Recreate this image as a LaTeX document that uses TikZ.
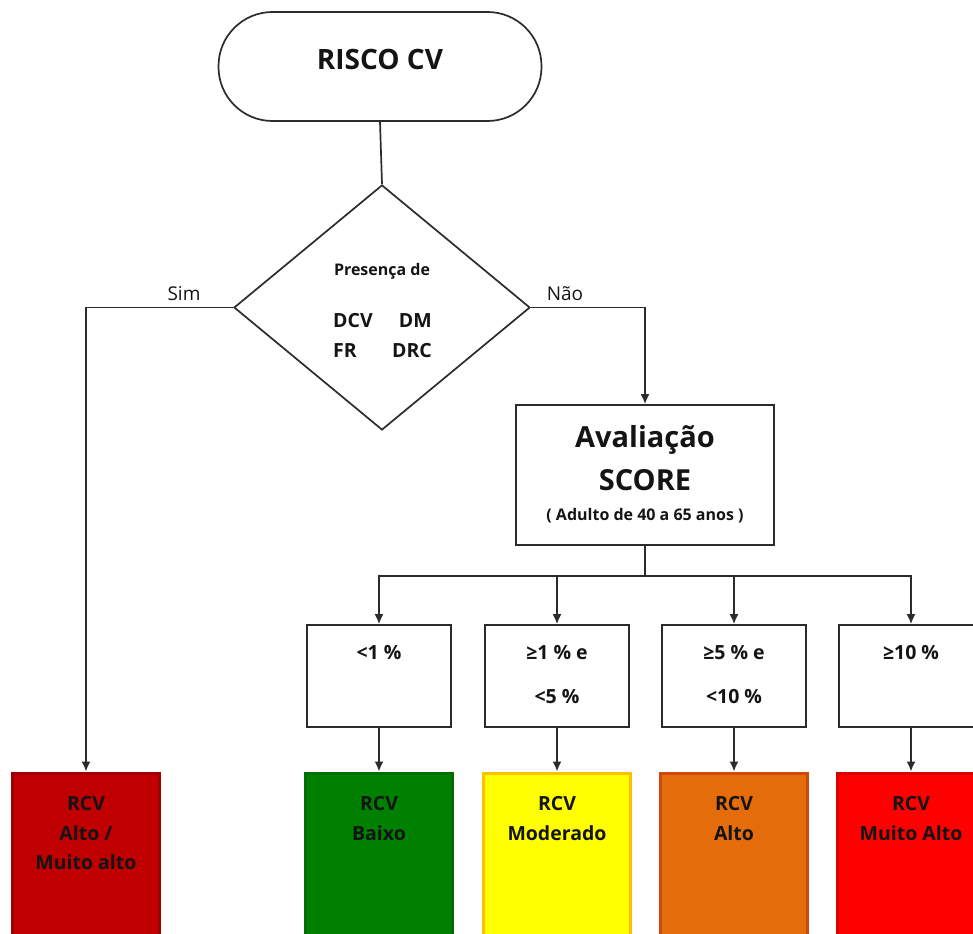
\documentclass[tikz,border=0pt]{standalone}
\usepackage{fontspec}
\setmainfont{Open Sans}
\usetikzlibrary{arrows.meta,shapes.geometric}
\definecolor{ln}{HTML}{2B2B2B}
\definecolor{tx}{HTML}{141414}
\definecolor{cdr}{HTML}{C00000}\definecolor{cdrb}{HTML}{A00000}
\definecolor{cgr}{HTML}{008000}\definecolor{cgrb}{HTML}{006E00}
\definecolor{cye}{HTML}{FFFF00}\definecolor{cyeb}{HTML}{FFC000}
\definecolor{cor}{HTML}{E46C0A}\definecolor{corb}{HTML}{D0480A}
\definecolor{cre}{HTML}{FF0000}\definecolor{creb}{HTML}{D80000}
\begin{document}
\begin{tikzpicture}[x=1pt,y=-1pt,
  line/.style={draw=ln,line width=1.7pt},
  arr/.style={line,-{Latex[length=10pt,width=9pt]}},
  txt/.style={inner sep=0pt,anchor=base,font=\bfseries\fontsize{19.5}{23}\selectfont,text=tx},
  pbox/.style={line,rectangle,minimum width=144pt,minimum height=102pt,inner sep=0pt},
  cbox/.style={rectangle,line width=3pt,minimum width=147pt,minimum height=180pt,inner sep=0pt}]
\useasboundingbox (0,0) rectangle (973,933);
\clip (0,0) rectangle (973,933);
% top terminator
\node[line,rectangle,rounded corners=54pt,minimum width=323pt,minimum height=109pt,inner sep=0pt] (start) at (380,66.5) {};
\node[txt,font=\bfseries\fontsize{28}{34}\selectfont] (tstart) at (380,70) {RISCO CV};
% decision
\node[line,diamond,aspect=1.2,minimum width=296pt,minimum height=245pt,inner sep=0pt] (dec) at (382,307.5) {};
\node[txt,font=\bfseries\fontsize{16}{19}\selectfont] (tpres) at (382,275) {Presença de};
\node[txt,anchor=base west] (tdcv) at (333,327) {DCV};
\node[txt,anchor=base east] (tdm) at (432,327) {DM};
\node[txt,anchor=base west] (tfr) at (333,357) {FR};
\node[txt,anchor=base east] (tdrc) at (432,357) {DRC};
\node[txt,font=\fontsize{19}{23}\selectfont] (lsim) at (184,300) {Sim};
\node[txt,font=\fontsize{19}{23}\selectfont] (lnao) at (565,300) {Não};
% score box
\node[line,rectangle,minimum width=258pt,minimum height=140pt,inner sep=0pt] (score) at (645,475) {};
\node[txt,font=\bfseries\fontsize{29}{34}\selectfont] (tav) at (645,447) {Avaliação};
\node[txt,font=\bfseries\fontsize{29}{34}\selectfont] (tsc) at (645,490) {SCORE};
\node[txt,font=\bfseries\fontsize{16}{19}\selectfont] (tad) at (645,520) {( Adulto de 40 a 65 anos )};
% percent boxes
\node[pbox] (p1) at (379,676) {};
\node[pbox] (p2) at (557,676) {};
\node[pbox] (p3) at (734,676) {};
\node[pbox] (p4) at (911,676) {};
\node[txt] (tp1) at (379,659) {<1 \%};
\node[txt] (tp2a) at (557,659) {≥1 \% e};
\node[txt] (tp2b) at (557,703) {<5 \%};
\node[txt] (tp3a) at (734,659) {≥5 \% e};
\node[txt] (tp3b) at (734,703) {<10 \%};
\node[txt] (tp4) at (911,659) {≥10 \%};
% coloured boxes
\node[cbox,fill=cdr,draw=cdrb] (b0) at (86,863) {};
\node[cbox,fill=cgr,draw=cgrb] (b1) at (379,863) {};
\node[cbox,fill=cye,draw=cyeb] (b2) at (557,863) {};
\node[cbox,fill=cor,draw=corb] (b3) at (734,863) {};
\node[cbox,fill=cre,draw=creb] (b4) at (911,863) {};
\node[txt] (tb0a) at (86,810) {RCV};
\node[txt] (tb0b) at (86,840) {Alto /};
\node[txt] (tb0c) at (86,869) {Muito alto};
\node[txt] (tb1a) at (379,810) {RCV};
\node[txt] (tb1b) at (379,840) {Baixo};
\node[txt] (tb2a) at (557,810) {RCV};
\node[txt] (tb2b) at (557,840) {Moderado};
\node[txt] (tb3a) at (734,810) {RCV};
\node[txt] (tb3b) at (734,840) {Alto};
\node[txt] (tb4a) at (911,810) {RCV};
\node[txt] (tb4b) at (911,840) {Muito Alto};
% connectors
\draw[line] (start.south) -- (dec.north);
\draw[arr] (dec.west) -| (b0.north);
\draw[arr] (dec.east) -| (score.north);
\draw[line] (score.south) -- ++(0,30) coordinate (bus);
\draw[arr] (bus) -| (p1.north);
\draw[arr] (bus) -| (p2.north);
\draw[arr] (bus) -| (p3.north);
\draw[arr] (bus) -| (p4.north);
\draw[arr] (p1.south) -- (b1.north);
\draw[arr] (p2.south) -- (b2.north);
\draw[arr] (p3.south) -- (b3.north);
\draw[arr] (p4.south) -- (b4.north);
\end{tikzpicture}
\end{document}
